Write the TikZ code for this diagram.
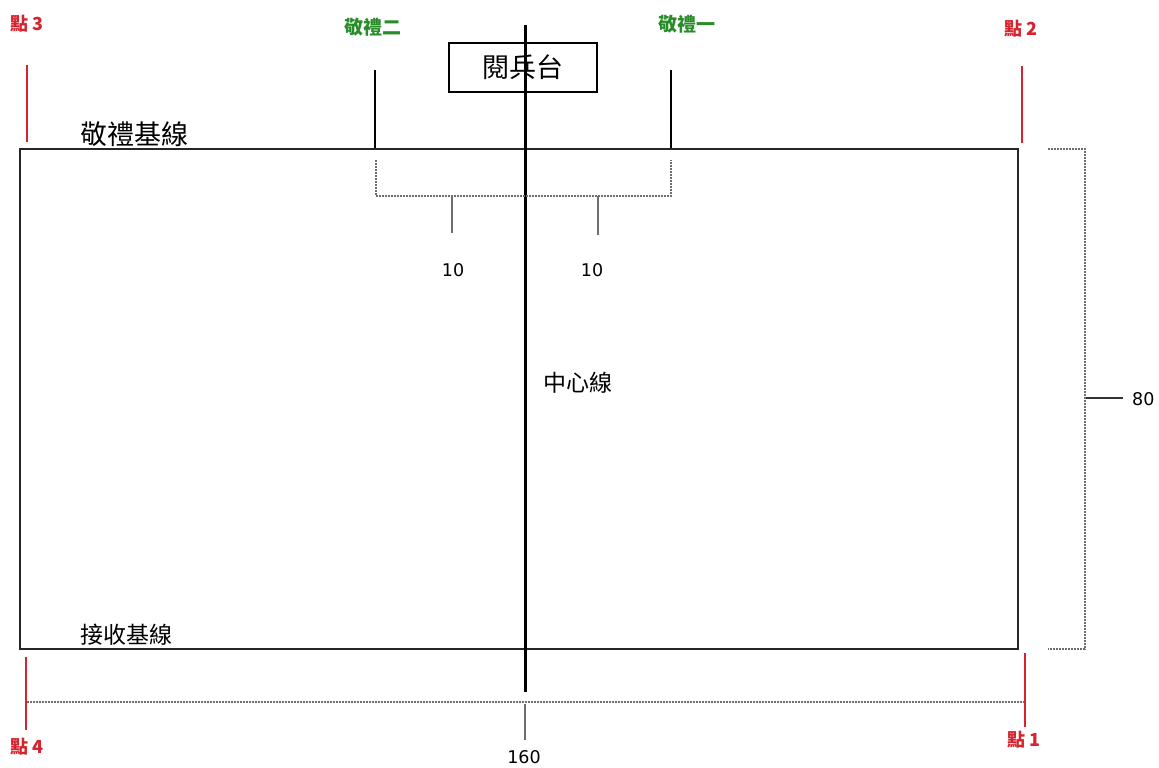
\documentclass[tikz,border=0pt]{standalone}
\usepackage{fontspec}
\setmainfont{DejaVu Sans}
\newfontfamily\cjk{Noto Sans CJK TC}
\definecolor{ptred}{RGB}{215,35,45}
\definecolor{salgreen}{RGB}{40,140,40}
\definecolor{dimgray}{RGB}{110,110,110}
\tikzset{
  x=1pt,y=-1pt,
  frame/.style={draw=black!85,line width=1.2pt},
  centre/.style={draw=black,line width=3pt},
  redline/.style={draw=ptred,line width=1.2pt},
  blackline/.style={draw=black,line width=1.2pt},
  dimdash/.style={draw=dimgray,line width=1.1pt,dash pattern=on 2pt off 1pt},
  dimtick/.style={draw=dimgray,line width=1.2pt},
  redlabel/.style={text=ptred,font=\cjk\bfseries\fontsize{18}{20}\selectfont,inner sep=0pt},
  greenlabel/.style={text=salgreen,font=\cjk\bfseries\fontsize{19}{21}\selectfont,inner sep=0pt},
  num/.style={font=\fontsize{17.5}{20}\selectfont,inner sep=0pt},
  cjklabel/.style={font=\cjk\fontsize{#1}{#1}\selectfont,inner sep=0pt},
}
\begin{document}
\begin{tikzpicture}
\useasboundingbox (0,0) rectangle (1159,768);
% field
\coordinate (tl) at (20,149);
\coordinate (br) at (1018,649);
\draw[frame] (tl) rectangle (br);
% centre line
\coordinate (ctop) at (525,25);
\coordinate (cbot) at (525,692);
% reviewing stand
\node[draw=black,line width=1.1pt,fill=white,minimum width=148pt,minimum height=49pt,inner sep=0pt,cjklabel=27] (stand) at (523,67.5) {閱兵台};
\draw[centre] (ctop) -- (cbot);
% labels inside
\node[cjklabel=27,anchor=west] (salbase) at (80,134) {敬禮基線};
\node[cjklabel=23,anchor=west] (recbase) at (80,635) {接收基線};
\node[cjklabel=23,anchor=west] (cline) at (543,383) {中心線};
% salute points
\node[greenlabel] (sal2) at (373,27) {敬禮二};
\node[greenlabel] (sal1) at (687,24) {敬禮一};
\coordinate (s2a) at (375,70); \coordinate (s2b) at (375,148);
\coordinate (s1a) at (671,70); \coordinate (s1b) at (671,148);
\draw[blackline] (s2a) -- (s2b);
\draw[blackline] (s1a) -- (s1b);
% top bracket
\coordinate (b1) at (376,160); \coordinate (b2) at (376,196);
\coordinate (b3) at (671,196); \coordinate (b4) at (671,160);
\draw[dimdash] (b1) -- (b2) -- (b3) -- (b4);
\coordinate (t1a) at (452,196); \coordinate (t1b) at (452,233);
\coordinate (t2a) at (598,196); \coordinate (t2b) at (598,235);
\draw[dimtick] (t1a) -- (t1b);
\draw[dimtick] (t2a) -- (t2b);
\node[num] (ten1) at (453,270) {10};
\node[num] (ten2) at (592,270) {10};
% corner points
\node[redlabel] (p3) at (27,24) {點 3};
\node[redlabel] (p2) at (1021,29) {點 2};
\node[redlabel] (p4) at (27,747) {點 4};
\node[redlabel] (p1) at (1024,740) {點 1};
\coordinate (r3a) at (27,65); \coordinate (r3b) at (27,142);
\coordinate (r2a) at (1022,66); \coordinate (r2b) at (1022,143);
\coordinate (r4a) at (26,657); \coordinate (r4b) at (26,730);
\coordinate (r1a) at (1025,653); \coordinate (r1b) at (1025,727);
\draw[redline] (r3a) -- (r3b);
\draw[redline] (r2a) -- (r2b);
\draw[redline] (r4a) -- (r4b);
\draw[redline] (r1a) -- (r1b);
% bottom dimension
\coordinate (h1) at (27,702); \coordinate (h2) at (1024,702);
\draw[dimdash] (h1) -- (h2);
\coordinate (h3) at (525,704); \coordinate (h4) at (525,740);
\draw[dimtick] (h3) -- (h4);
\node[num] (len) at (524,757) {160};
% right dimension
\coordinate (v1) at (1048,149); \coordinate (v2) at (1085,149);
\coordinate (v3) at (1085,649); \coordinate (v4) at (1048,649);
\draw[dimdash] (v1) -- (v2) -- (v3) -- (v4);
\coordinate (v5) at (1086,398); \coordinate (v6) at (1123,398);
\draw[draw=black!80,line width=1.2pt] (v5) -- (v6);
\node[num,anchor=west] (wid) at (1132,399) {80};
\end{tikzpicture}
\end{document}
